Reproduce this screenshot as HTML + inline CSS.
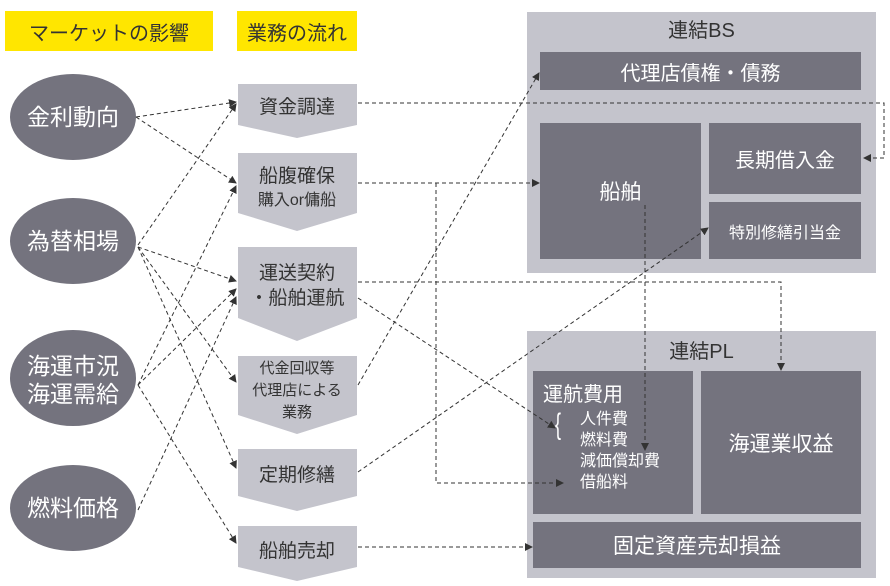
<!DOCTYPE html>
<html><head><meta charset="utf-8"><style>
body{margin:0;width:890px;height:586px;background:#fff;position:relative;overflow:hidden;font-family:"Liberation Sans","Noto Sans CJK JP",sans-serif}
.a{position:absolute;box-sizing:border-box}
.y{background:#ffe600;color:#333;font-size:20px;display:flex;align-items:center;justify-content:center}
.d{background:#74737e;color:#fff;display:flex;align-items:center;justify-content:center;text-align:center}
.l{background:#c4c4cc}
</style></head><body>
<div class="a y" style="left:5px;top:11px;width:208px;height:40px">マーケットの影響</div>
<div class="a y" style="left:237px;top:11px;width:120px;height:40px">業務の流れ</div>

<div class="a l" style="left:527px;top:12px;width:349px;height:261px"></div>
<div class="a" style="left:527px;top:14px;width:349px;text-align:center;font-size:20px;color:#333">連結BS</div>
<div class="a d" style="left:540px;top:52px;width:321px;height:38px;font-size:20px">代理店債権・債務</div>
<div class="a d" style="left:540px;top:123px;width:161px;height:136px;font-size:21px">船舶</div>
<div class="a d" style="left:709px;top:123px;width:152px;height:71px;font-size:20px">長期借入金</div>
<div class="a d" style="left:709px;top:202px;width:152px;height:57px;font-size:16px">特別修繕引当金</div>

<div class="a l" style="left:527px;top:331px;width:349px;height:247px"></div>
<div class="a" style="left:527px;top:335px;width:349px;text-align:center;font-size:20px;color:#333">連結PL</div>
<div class="a" style="left:533px;top:371px;width:160px;height:143px;background:#74737e;color:#fff">
 <div style="position:absolute;left:10px;top:7px;font-size:20px">運航費用</div>
 <div style="position:absolute;left:20px;top:37px;font-size:30px;font-weight:100;transform:scaleX(0.6)">{</div>
 <div style="position:absolute;left:47px;top:38px;font-size:16px;line-height:21px">人件費<br>燃料費<br>減価償却費<br>借船料</div>
</div>
<div class="a d" style="left:701px;top:371px;width:160px;height:143px;font-size:21px">海運業収益</div>
<div class="a d" style="left:533px;top:522px;width:328px;height:46px;font-size:21px">固定資産売却損益</div>

<svg class="a" style="left:0;top:0" width="890" height="586">
<g fill="#c4c4cc">
<polygon points="238,84 357,84 357,125 297,138 238,125"/>
<polygon points="238,153 357,153 357,213 297,231 238,213"/>
<polygon points="238,247 357,247 357,318 297,341 238,318"/>
<polygon points="238,356 357,356 357,415 297,434 238,415"/>
<polygon points="238,449 357,449 357,496 297,511 238,496"/>
<polygon points="238,526 357,526 357,567 297,581 238,567"/>
</g>
<g fill="#74737e">
<ellipse cx="73" cy="117" rx="63" ry="43"/>
<ellipse cx="73" cy="241" rx="63" ry="43"/>
<ellipse cx="73" cy="378" rx="63" ry="48"/>
<ellipse cx="73" cy="508" rx="63" ry="43"/>
</g>
<g fill="#fff" font-size="23" text-anchor="middle" font-family="Liberation Sans,Noto Sans CJK JP,sans-serif">
<text x="73" y="125">金利動向</text>
<text x="73" y="249">為替相場</text>
<text x="73" y="374">海運市況</text>
<text x="73" y="402">海運需給</text>
<text x="73" y="516">燃料価格</text>
</g>
<g fill="#333" text-anchor="middle" font-family="Liberation Sans,Noto Sans CJK JP,sans-serif">
<text x="297" y="113" font-size="19">資金調達</text>
<text x="297" y="182" font-size="19">船腹確保</text>
<text x="297" y="205" font-size="16">購入or傭船</text>
<text x="297" y="279" font-size="19">運送契約</text>
<text x="297" y="304" font-size="19">・船舶運航</text>
<text x="297" y="373" font-size="15">代金回収等</text>
<text x="297" y="395" font-size="15">代理店による</text>
<text x="297" y="417" font-size="15">業務</text>
<text x="297" y="481" font-size="19">定期修繕</text>
<text x="297" y="557" font-size="19">船舶売却</text>
</g>
<defs><marker id="m" markerWidth="8" markerHeight="8" refX="7" refY="4" orient="auto" markerUnits="userSpaceOnUse"><polygon points="0,0 8,4 0,8" fill="#333"/></marker></defs>
<g stroke="#333" stroke-width="1" stroke-dasharray="4,3" fill="none" marker-end="url(#m)">
<line x1="136" y1="117" x2="236" y2="102"/>
<line x1="136" y1="117" x2="236" y2="183"/>
<line x1="138" y1="245" x2="236" y2="104"/>
<line x1="138" y1="247" x2="236" y2="281"/>
<line x1="138" y1="247" x2="236" y2="382"/>
<line x1="138" y1="247" x2="236" y2="468"/>
<line x1="138" y1="385" x2="236" y2="186"/>
<line x1="138" y1="385" x2="236" y2="289"/>
<line x1="138" y1="385" x2="236" y2="543"/>
<line x1="138" y1="510" x2="236" y2="297"/>
<polyline points="358,103 884,103 884,158 864,158"/>
<line x1="358" y1="183" x2="539" y2="183"/>
<polyline points="436,183 436,483 563,483"/>
<polyline points="358,282 781,282 781,370"/>
<line x1="358" y1="298" x2="555" y2="428"/>
<line x1="358" y1="385" x2="539" y2="73"/>
<line x1="358" y1="472" x2="708" y2="228"/>
<line x1="645" y1="205" x2="645" y2="450"/>
<line x1="358" y1="547" x2="532" y2="547"/>
</g>
</svg>
</body></html>
